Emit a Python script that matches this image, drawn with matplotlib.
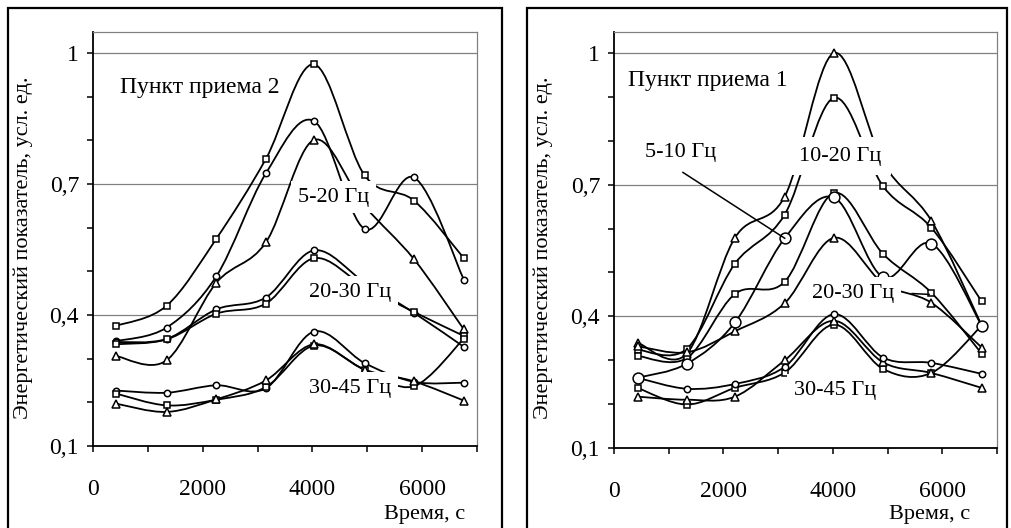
"""Energy index vs time at two receiving points (two panels, Excel-style smoothed curves)."""

import matplotlib
matplotlib.use("Agg")
import matplotlib.pyplot as plt
import numpy as np
from matplotlib.patches import PathPatch, Rectangle
from matplotlib.path import Path
from matplotlib.ticker import MultipleLocator, FixedLocator

plt.rcParams["font.family"] = ["Liberation Serif", "DejaVu Serif"]

# --- data: receiving point 2 (left panel) ---
time_2 = [420, 1340, 2250, 3150, 4030, 4950, 5850, 6760]
p2_520_sq = [0.375, 0.421, 0.575, 0.757, 0.974, 0.720, 0.662, 0.530]
p2_520_ci = [0.340, 0.371, 0.489, 0.724, 0.844, 0.597, 0.715, 0.481]
p2_520_tr = [0.306, 0.296, 0.474, 0.566, 0.801, 0.650, 0.528, 0.367]
p2_2030_ci = [0.338, 0.345, 0.413, 0.440, 0.548, 0.475, 0.405, 0.327]
p2_2030_sq = [0.333, 0.344, 0.403, 0.426, 0.530, 0.465, 0.407, 0.352]
p2_3045_ci = [0.227, 0.222, 0.239, 0.232, 0.362, 0.290, 0.247, 0.245]
p2_3045_sq = [0.220, 0.193, 0.206, 0.235, 0.330, 0.275, 0.237, 0.346]
p2_3045_tr = [0.197, 0.178, 0.207, 0.250, 0.333, 0.275, 0.248, 0.204]

# --- data: receiving point 1 (right panel) ---
time_1 = [430, 1330, 2210, 3120, 4020, 4920, 5800, 6720]
p1_1020_tr = [0.340, 0.315, 0.579, 0.673, 1.000, 0.750, 0.618, 0.379]
p1_1020_sq = [0.324, 0.326, 0.520, 0.632, 0.898, 0.696, 0.602, 0.434]
p1_510_ci = [0.260, 0.292, 0.386, 0.578, 0.671, 0.489, 0.566, 0.379]
p1_2030_sq = [0.310, 0.305, 0.451, 0.479, 0.681, 0.542, 0.454, 0.315]
p1_2030_tr = [0.332, 0.318, 0.366, 0.430, 0.579, 0.475, 0.431, 0.329]
p1_3045_ci = [0.260, 0.235, 0.246, 0.285, 0.405, 0.306, 0.294, 0.269]
p1_3045_tr = [0.217, 0.210, 0.217, 0.300, 0.390, 0.295, 0.271, 0.237]
p1_3045_sq = [0.237, 0.199, 0.237, 0.272, 0.381, 0.280, 0.271, 0.379]

y_ticks = [0.1, 0.4, 0.7, 1.0]
y_tick_labels = ["0,1", "0,4", "0,7", "1"]
x_ticks = [0, 2000, 4000, 6000]

W, H = 1011, 528
MARKERS = {"s": dict(marker="s", ms=4.6), "o": dict(marker="o", ms=4.6),
           "^": dict(marker="^", ms=5.4), "O": dict(marker="o", ms=7.8)}


def smooth_path(x, y):
    # Excel-like smoothing: Catmull-Rom tangents as cubic Bezier segments
    pts = np.column_stack([x, y]).astype(float)
    n = len(pts)
    verts = [pts[0]]
    codes = [Path.MOVETO]
    for i in range(n - 1):
        p0 = pts[i - 1] if i > 0 else pts[i]
        p1, p2 = pts[i], pts[i + 1]
        p3 = pts[i + 2] if i + 2 < n else pts[i + 1]
        verts += [p1 + (p2 - p0) / 6, p2 - (p3 - p1) / 6, p2]
        codes += [Path.CURVE4] * 3
    return Path(verts, codes)


def draw_series(ax, x, y, mk):
    ax.add_patch(PathPatch(smooth_path(x, y), fill=False, ec="black",
                           lw=1.3, zorder=3))
    m = MARKERS[mk]
    ax.plot(x, y, ls="none", marker=m["marker"], ms=m["ms"], mfc="white",
            mec="black", mew=1.1, zorder=4)


def label(ax, x, y, s, pad=5):
    ax.text(x, y, s, fontsize=16, ha="center", va="center", zorder=6,
            bbox=dict(fc="white", ec="none", pad=pad))


def setup_axes(ax):
    ax.set_xlim(0, 7000)
    ax.set_ylim(0.1, 1.048)
    ax.xaxis.set_major_locator(FixedLocator(x_ticks))
    ax.xaxis.set_minor_locator(MultipleLocator(1000))
    ax.yaxis.set_major_locator(FixedLocator(y_ticks))
    ax.yaxis.set_minor_locator(MultipleLocator(0.1))
    ax.set_yticklabels(y_tick_labels)
    ax.tick_params(axis="both", which="both", direction="out", length=4,
                   width=1.1, color="black", labelsize=17)
    ax.tick_params(axis="x", which="major", pad=20)
    ax.tick_params(axis="y", which="major", pad=6)
    for side in ("top", "right"):
        ax.spines[side].set_color("#808080")
        ax.spines[side].set_linewidth(0.9)
    for side in ("left", "bottom"):
        ax.spines[side].set_linewidth(1.3)
    for v in y_ticks[1:]:
        ax.axhline(v, color="#808080", lw=0.9, zorder=1)


fig = plt.figure(figsize=(W / 100, H / 100), dpi=100)

# outer frames of the two chart objects
for x0, x1 in ((8, 502), (527, 1007)):
    fig.patches.append(Rectangle((x0 / W, -0.05), (x1 - x0) / W, 1.05 - 8 / H,
                                 transform=fig.transFigure, fill=False,
                                 ec="black", lw=1.6))

ax2 = fig.add_axes([93 / W, 1 - 446 / H, 384 / W, 414 / H])
ax1 = fig.add_axes([614 / W, 1 - 448 / H, 383 / W, 416 / H])
setup_axes(ax2)
setup_axes(ax1)

# left panel
for y, mk in ((p2_520_sq, "s"), (p2_520_ci, "o"), (p2_520_tr, "^"),
              (p2_2030_ci, "o"), (p2_2030_sq, "s"),
              (p2_3045_ci, "o"), (p2_3045_sq, "s"), (p2_3045_tr, "^")):
    draw_series(ax2, time_2, y, mk)
ax2.text(490, 0.921, "Пункт приема 2", fontsize=17, ha="left", va="center")
label(ax2, 4390, 0.670, "5-20 Гц")
label(ax2, 4690, 0.452, "20-30 Гц")
label(ax2, 4690, 0.232, "30-45 Гц")

# right panel
for y, mk in ((p1_1020_tr, "^"), (p1_1020_sq, "s"),
              (p1_2030_sq, "s"), (p1_2030_tr, "^"),
              (p1_3045_sq, "s"), (p1_3045_tr, "^"), (p1_3045_ci, "o"),
              (p1_510_ci, "O")):
    draw_series(ax1, time_1, y, mk)
ax1.text(256, 0.938, "Пункт приема 1", fontsize=17, ha="left", va="center")
ax1.text(1210, 0.774, "5-10 Гц", fontsize=16, ha="center", va="center")
ax1.plot([1260, time_1[3]], [0.728, p1_510_ci[3]], color="black", lw=1.1,
         zorder=5)
label(ax1, 4130, 0.765, "10-20 Гц", pad=7)
label(ax1, 4370, 0.452, "20-30 Гц")
ax1.plot([5450, 5760], [0.452, 0.450], color="black", lw=1.1, zorder=5)
label(ax1, 4040, 0.232, "30-45 Гц")

# axis titles
for xc, xr in ((23, 465), (543, 970)):
    fig.text(xc / W, 1 - 248 / H, "Энергетический показатель, усл. ед.",
             rotation=90, fontsize=16, ha="center", va="center")
    fig.text(xr / W, 1 - 514 / H, "Время, с", fontsize=16, ha="right",
             va="center")

fig.savefig("out.png", dpi=100)
